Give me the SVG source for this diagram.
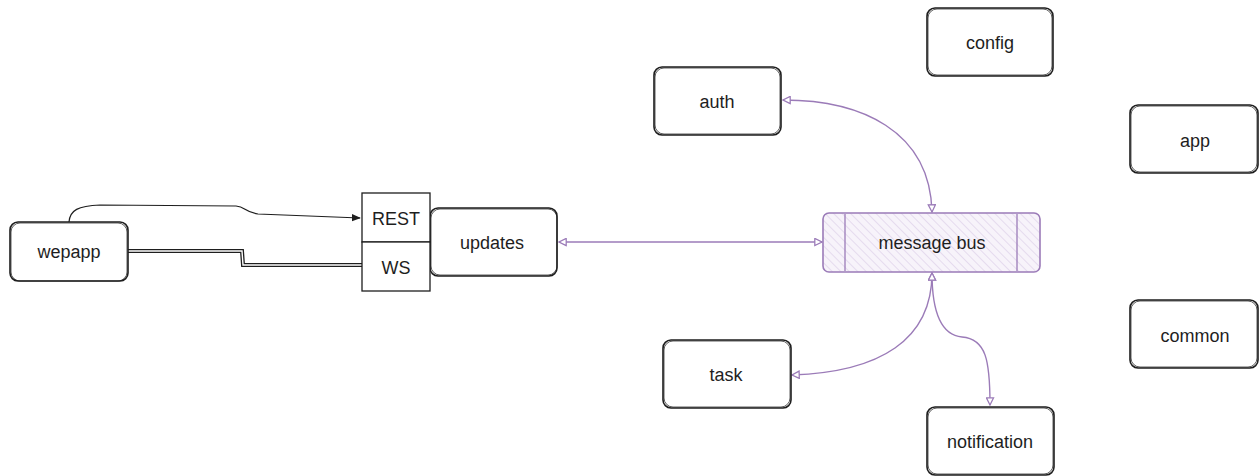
<svg xmlns="http://www.w3.org/2000/svg" width="1260" height="476" viewBox="0 0 1260 476">
  <style>
    .box { fill: #ffffff; stroke: #1e1e1e; stroke-width: 1.6; }
    .box2 { fill: none; stroke: #1e1e1e; stroke-width: 0.9; opacity: 0.8; }
    .lbl { font-family: "Liberation Sans", "DejaVu Sans", sans-serif; font-size: 18px; fill: #1e1e1e; text-anchor: middle; dominant-baseline: central; }
    .bus { fill: url(#hatch); stroke: #9b7bb8; stroke-width: 1.6; }
    .bus2 { fill: none; stroke: #9b7bb8; stroke-width: 1.3; }
    .link { fill: none; stroke: #9b7bb8; stroke-width: 1.4; }
    .blk { fill: none; stroke: #1e1e1e; stroke-width: 1.2; }
  </style>
  <defs>
    <pattern id="hatch" width="6" height="6" patternUnits="userSpaceOnUse" patternTransform="rotate(-45)">
      <rect width="6" height="6" fill="#f7f3fa"/>
      <line x1="0" y1="0" x2="0" y2="6" stroke="#d9cce6" stroke-width="1.2"/>
    </pattern>
    <marker id="pa" viewBox="0 0 10 10" refX="9" refY="5" markerWidth="9" markerHeight="9" orient="auto-start-reverse" markerUnits="userSpaceOnUse">
      <path d="M1,1 L9,5 L1,9 Z" fill="#ffffff" stroke="#9b7bb8" stroke-width="1.4"/>
    </marker>
    <marker id="ba" viewBox="0 0 10 10" refX="9" refY="5" markerWidth="9" markerHeight="9" orient="auto" markerUnits="userSpaceOnUse">
      <path d="M0,1 L10,5 L0,9 Z" fill="#1e1e1e"/>
    </marker>
  </defs>

  <!-- connectors -->
  <g id="connectors">
    <path class="blk" d="M69,222 C70,210 78,206 100,205 L236,206 C246,207 244,212 258,214 L360,218" marker-end="url(#ba)"/>
    <!-- double line webapp to WS -->
    <path d="M128,251 L242,251 L243,265 L362,265" fill="none" stroke="#1e1e1e" stroke-width="4"/>
    <path d="M128,251 L242,251 L243,265 L362,265" fill="none" stroke="#ffffff" stroke-width="1.4"/>
    <path class="link" d="M559,242 L822,242" marker-start="url(#pa)" marker-end="url(#pa)"/>
    <path class="link" d="M783,100 C860,100 930,130 932,212" marker-start="url(#pa)" marker-end="url(#pa)"/>
    <path class="link" d="M932,273 C932,340 880,372 792,375" marker-start="url(#pa)" marker-end="url(#pa)"/>
    <path class="link" d="M932,273 C932,310 940,335 962,337 C986,339 990,360 990,405" marker-start="url(#pa)" marker-end="url(#pa)"/>
  </g>

  <g id="wepapp">
    <rect class="box" x="10" y="222" width="118" height="59" rx="8"/>
    <rect class="box2" x="11" y="223" width="116" height="58" rx="9"/>
    <text class="lbl" x="69" y="252">wepapp</text>
  </g>

  <g id="updates">
    <rect class="box" x="430" y="208" width="127" height="68" rx="8"/>
    <rect class="box2" x="431" y="209" width="126" height="66" rx="9"/>
    <text class="lbl" x="492" y="243">updates</text>
  </g>

  <g id="rest">
    <rect x="362" y="193" width="68" height="49" fill="#ffffff" stroke="#1e1e1e" stroke-width="1.3"/>
    <text class="lbl" x="396" y="219">REST</text>
  </g>

  <g id="ws">
    <rect x="362" y="242" width="68" height="49" fill="#ffffff" stroke="#1e1e1e" stroke-width="1.3"/>
    <text class="lbl" x="396" y="268">WS</text>
  </g>

  <g id="message-bus">
    <rect class="bus" x="823" y="213" width="217" height="59" rx="6"/>
    <line class="bus2" x1="845" y1="214" x2="845" y2="271"/>
    <line class="bus2" x1="1017" y1="214" x2="1017" y2="271"/>
    <text class="lbl" x="932" y="243">message bus</text>
  </g>

  <g id="auth">
    <rect class="box" x="654" y="67" width="127" height="68" rx="8"/>
    <rect class="box2" x="655" y="68" width="125" height="66" rx="9"/>
    <text class="lbl" x="717" y="102">auth</text>
  </g>

  <g id="config">
    <rect class="box" x="927" y="8" width="126" height="68" rx="8"/>
    <rect class="box2" x="928" y="9" width="124" height="66" rx="9"/>
    <text class="lbl" x="990" y="43">config</text>
  </g>

  <g id="app">
    <rect class="box" x="1130" y="105" width="128" height="68" rx="8"/>
    <rect class="box2" x="1131" y="106" width="126" height="66" rx="9"/>
    <text class="lbl" x="1195" y="141">app</text>
  </g>

  <g id="common">
    <rect class="box" x="1130" y="300" width="128" height="68" rx="8"/>
    <rect class="box2" x="1131" y="301" width="126" height="66" rx="9"/>
    <text class="lbl" x="1195" y="336">common</text>
  </g>

  <g id="task">
    <rect class="box" x="663" y="340" width="128" height="68" rx="8"/>
    <rect class="box2" x="664" y="341" width="126" height="66" rx="9"/>
    <text class="lbl" x="726" y="375">task</text>
  </g>

  <g id="notification">
    <rect class="box" x="927" y="407" width="127" height="68" rx="8"/>
    <rect class="box2" x="928" y="408" width="125" height="66" rx="9"/>
    <text class="lbl" x="990" y="442">notification</text>
  </g>
</svg>
